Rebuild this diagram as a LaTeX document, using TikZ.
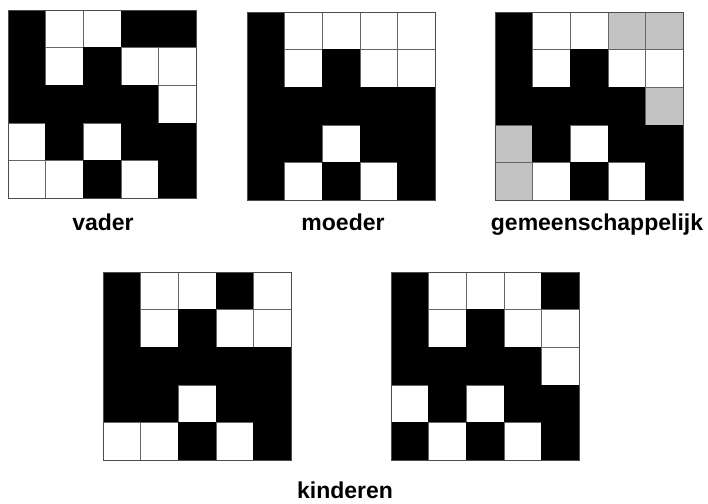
\documentclass[tikz,border=0pt]{standalone}
\usepackage{fontspec}
\setmainfont{Liberation Sans}
\usepackage{tikz}
\colorlet{B}{black}
\colorlet{Bl}{black}
\colorlet{W}{white}
\colorlet{Wl}{black!60}
\definecolor{G}{gray}{0.76}
\colorlet{Gl}{black!60}
\tikzset{
  frame/.style={draw=black!70,line width=0.8pt},
  cell/.style={line width=0.6pt},
  lbl/.style={anchor=base,font=\bfseries\fontsize{23}{26}\selectfont}
}
\newcommand{\bitgrid}[3]{%
  \foreach \row [count=\r] in {#3} {
    \foreach \v [count=\c] in \row {
      \draw[cell,fill=\v,draw=\v l] ({#1+(\c-1)*37.6},{#2+(\r-1)*37.6}) rectangle ++(37.6,37.6);
    }
  }
  \draw[frame] (#1,#2) rectangle ++(188,188);
}

\begin{document}
\begin{tikzpicture}[x=1pt,y=-1pt]
\useasboundingbox (0,0) rectangle (708,503);
\bitgrid{8}{10}{{B,W,W,B,B},{B,W,B,W,W},{B,B,B,B,W},{W,B,W,B,B},{W,W,B,W,B}}
\bitgrid{247}{12}{{B,W,W,W,W},{B,W,B,W,W},{B,B,B,B,B},{B,B,W,B,B},{B,W,B,W,B}}
\bitgrid{495}{12}{{B,W,W,G,G},{B,W,B,W,W},{B,B,B,B,G},{G,B,W,B,B},{G,W,B,W,B}}
\bitgrid{103}{272}{{B,W,W,B,W},{B,W,B,W,W},{B,B,B,B,B},{B,B,W,B,B},{W,W,B,W,B}}
\bitgrid{391}{272}{{B,W,W,W,B},{B,W,B,W,W},{B,B,B,B,W},{W,B,W,B,B},{B,W,B,W,B}}
\node[lbl] (vader) at (103,230) {vader};
\node[lbl] (moeder) at (343,230) {moeder};
\node[lbl] (gemeen) at (597,230) {gemeenschappelijk};
\node[lbl] (kinderen) at (345,498) {kinderen};
\end{tikzpicture}
\end{document}
